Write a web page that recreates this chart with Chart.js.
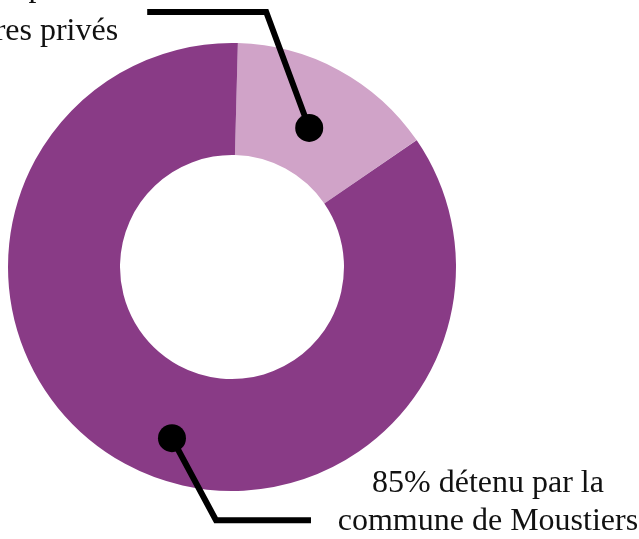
<!DOCTYPE html>
<html>
<head>
<meta charset="utf-8">
<script src="https://cdn.jsdelivr.net/npm/chart.js@4"></script>
<style>
  html, body { margin: 0; padding: 0; background: #fff; }
  #wrap { width: 639px; height: 539px; position: relative; }
</style>
</head>
<body>
<div id="wrap"><canvas id="mygraph"></canvas></div>
<script>
const categories = ['propriétaires privés', 'commune de Moustiers'];
const shares = [15, 85];
const colours = ['#d0a3c8', '#893b86'];
const labelLines = [
    ['15% détenu par des', 'propriétaires privés'],
    ['85% détenu par la', 'commune de Moustiers']
];

// where the leader dot sits inside each slice (fraction of angle, fraction of ring)
const leaders = [
    {angleFrac: 0.51, ringFrac: 0.42, elbow: [-43, -116], endX: -119, textX: -272, textY: [-16, 28]},
    {angleFrac: 0.47, ringFrac: 0.62, elbow: [44, 82], endX: 95, textX: 272, textY: [-28, 10]}
];

const leaderPlugin = {
    id: 'leaders',
    afterDraw(chart) {
        const c = chart.ctx;
        const arcs = chart.getDatasetMeta(0).data;
        arcs.forEach((arc, i) => {
            const p = arc.getProps(['x', 'y', 'startAngle', 'endAngle', 'innerRadius', 'outerRadius'], true);
            const l = leaders[i];
            const a = p.startAngle + (p.endAngle - p.startAngle) * l.angleFrac;
            const r = p.innerRadius + (p.outerRadius - p.innerRadius) * l.ringFrac;
            const dx = p.x + Math.cos(a) * r;
            const dy = p.y + Math.sin(a) * r;
            const ex = dx + l.elbow[0], ey = dy + l.elbow[1];
            c.save();
            c.strokeStyle = '#000';
            c.lineWidth = 6;
            c.lineJoin = 'miter';
            c.beginPath();
            c.moveTo(dx, dy);
            c.lineTo(ex, ey);
            c.lineTo(ex + l.endX, ey);
            c.stroke();
            c.fillStyle = '#000';
            c.beginPath();
            c.arc(dx, dy, 14, 0, Math.PI * 2);
            c.fill();
            c.font = '32px "Liberation Serif", serif';
            c.textAlign = 'center';
            c.textBaseline = 'alphabetic';
            c.fillStyle = '#111';
            labelLines[i].forEach((t, k) => {
                c.fillText(t, ex + l.textX, ey + l.textY[k]);
            });
            c.restore();
        });
    }
};

const ctx = document.getElementById('mygraph').getContext('2d');
const chart = new Chart(ctx, {
    type: 'doughnut',
    data: {
        labels: categories,
        datasets: [{data: shares, backgroundColor: colours, borderWidth: 0}]
    },
    options: {
        responsive: true,
        maintainAspectRatio: false,
        animation: {duration: 0},
        cutout: '50%',
        rotation: 1.5,
        layout: {padding: {left: 8, top: 43, right: 183, bottom: 48}},
        plugins: {legend: {display: false}, tooltip: {enabled: false}}
    },
    plugins: [leaderPlugin]
});
</script>
</body>
</html>
